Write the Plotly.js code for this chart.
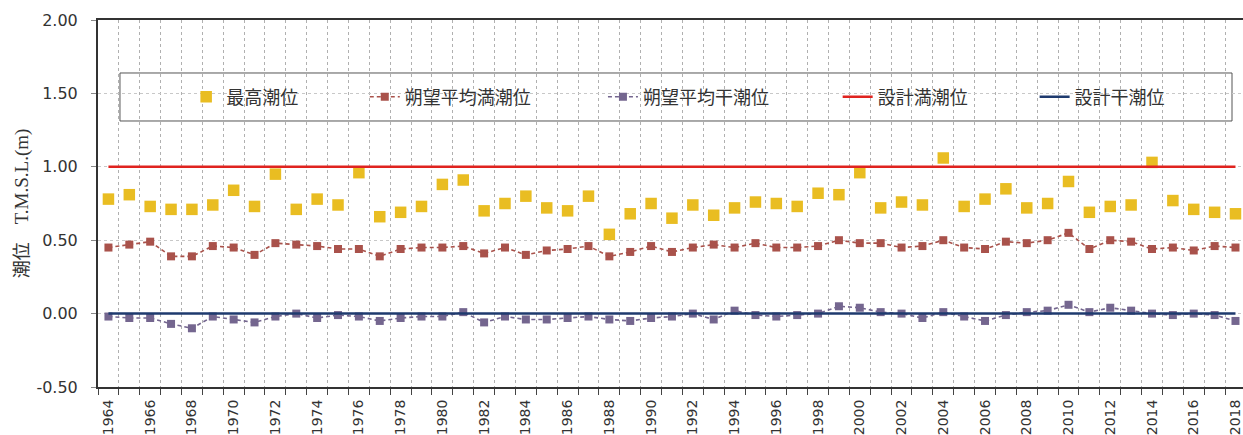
<!DOCTYPE html>
<html>
<head>
<meta charset="utf-8">
<script src="https://cdn.plot.ly/plotly-3.0.1.min.js"></script>
<style>html,body{margin:0;padding:0;background:#fff;}#chart{width:1243px;height:435px;}</style>
</head>
<body>
<div id="chart"></div>
<script>
const years = [];
for (let y = 1964; y <= 2018; y++) years.push(y);

const maxTide = [0.78,0.81,0.73,0.71,0.71,0.74,0.84,0.73,0.95,0.71,0.78,0.74,0.96,0.66,0.69,0.73,0.88,0.91,0.70,
  0.75,0.80,0.72,0.70,0.80,0.54,0.68,0.75,0.65,0.74,0.67,0.72,0.76,0.75,0.73,0.82,0.81,0.96,
  0.72,0.76,0.74,1.06,0.73,0.78,0.85,0.72,0.75,0.90,0.69,0.73,0.74,1.03,0.77,0.71,0.69,0.68];
const meanHigh = [0.45,0.47,0.49,0.39,0.39,0.46,0.45,0.40,0.48,0.47,0.46,0.44,0.44,0.39,0.44,0.45,0.45,0.46,0.41,
  0.45,0.40,0.43,0.44,0.46,0.39,0.42,0.46,0.42,0.45,0.47,0.45,0.48,0.45,0.45,0.46,0.50,0.48,
  0.48,0.45,0.46,0.50,0.45,0.44,0.49,0.48,0.50,0.55,0.44,0.50,0.49,0.44,0.45,0.43,0.46,0.45];
const meanLow = [-0.02,-0.03,-0.03,-0.07,-0.10,-0.02,-0.04,-0.06,-0.02,0.00,-0.03,-0.01,-0.02,-0.05,-0.03,-0.02,-0.02,0.01,-0.06,
  -0.02,-0.04,-0.04,-0.03,-0.02,-0.04,-0.05,-0.03,-0.02,0.00,-0.04,0.02,-0.01,-0.02,-0.01,0.00,0.05,0.04,
  0.01,0.00,-0.03,0.01,-0.02,-0.05,-0.01,0.01,0.02,0.06,0.01,0.04,0.02,0.00,-0.01,0.00,-0.01,-0.05];
const designHigh = years.map(() => 1.00);
const designLow = years.map(() => 0.00);

const labelYears = years.filter(y => y % 2 === 0);
const labelText = labelYears.map(String);
const yTickVals = [-0.5, 0, 0.5, 1.0, 1.5, 2.0];
const yTickText = ['-0.50', '0.00', '0.50', '1.00', '1.50', '2.00'];

const seriesNames = ['最高潮位','朔望平均満潮位','朔望平均干潮位','設計満潮位','設計干潮位'];

const traces = [
  {x: years, y: maxTide, name: seriesNames[0], mode: 'markers', type: 'scatter',
   marker: {symbol: 'square', size: 11.5, color: '#E9BD22'}, legend: 'legend'},
  {x: years, y: meanHigh, name: seriesNames[1], mode: 'lines+markers', type: 'scatter',
   line: {color: '#A9524B', width: 1.6, dash: '4px,3px'},
   marker: {symbol: 'square', size: 8, color: '#A9524B'}, legend: 'legend2'},
  {x: years, y: meanLow, name: seriesNames[2], mode: 'lines+markers', type: 'scatter',
   line: {color: '#74668F', width: 1.6, dash: '4px,3px'},
   marker: {symbol: 'square', size: 8, color: '#74668F'}, legend: 'legend3'},
  {x: years, y: designHigh, name: seriesNames[3], mode: 'lines', type: 'scatter', xaxis: 'x2',
   line: {color: '#E0231F', width: 2.5}, legend: 'legend4'},
  {x: years, y: designLow, name: seriesNames[4], mode: 'lines', type: 'scatter', xaxis: 'x2',
   line: {color: '#1E3A6E', width: 2.5}, legend: 'legend5'}
];

const legendFont = {family: 'Noto Sans CJK JP, sans-serif', size: 18, color: '#333'};
function lg(x) {
  return {x: x, y: 0.79, xanchor: 'left', yanchor: 'middle', orientation: 'h',
          bgcolor: 'rgba(0,0,0,0)', borderwidth: 0, font: legendFont};
}

const layout = {
  width: 1243, height: 435,
  margin: {l: 98, r: 0, t: 20, b: 48},
  paper_bgcolor: '#ffffff', plot_bgcolor: '#ffffff',
  showlegend: true,
  legend: lg(0.077), legend2: lg(0.233), legend3: lg(0.441), legend4: lg(0.646), legend5: lg(0.818),
  xaxis: {
    type: 'linear', range: [1963.5, 2018.36],
    tickmode: 'linear', tick0: 1963.5, dtick: 1,
    showticklabels: false, showgrid: true, gridcolor: '#b0b0b0', griddash: 'dot', gridwidth: 1,
    ticks: 'outside', ticklen: 6, tickcolor: '#444', tickwidth: 1,
    showline: true, linecolor: '#333', linewidth: 2, mirror: true, zeroline: false
  },
  xaxis2: {
    overlaying: 'x', matches: 'x', anchor: 'y', side: 'bottom',
    tickmode: 'array', tickvals: labelYears, ticktext: labelText, tickangle: -90,
    showgrid: false, zeroline: false, showline: false,
    ticks: 'outside', ticklen: 6, tickcolor: 'rgba(0,0,0,0)',
    ticklabeloverflow: 'allow',
    tickfont: {family: 'DejaVu Sans, sans-serif', size: 14, color: '#333'}
  },
  yaxis: {
    range: [-0.5, 2.0], tickmode: 'array', tickvals: yTickVals, ticktext: yTickText,
    showgrid: true, gridcolor: '#c8c8c8', griddash: 'dot', zeroline: false,
    ticks: 'outside', ticklen: 5, tickcolor: '#888',
    showline: true, linecolor: '#333', linewidth: 2, mirror: true,
    ticklabelstandoff: 10,
    tickfont: {family: 'DejaVu Sans, sans-serif', size: 16, color: '#333'},
    title: {text: '潮位　<span style="font-family:Liberation Serif;font-size:19px">T.M.S.L.(m)</span>',
            font: {family: 'Noto Sans CJK JP, sans-serif', size: 18, color: '#333'}, standoff: 3}
  },
  shapes: [{type: 'rect', xref: 'paper', yref: 'paper', x0: 0.0192, x1: 0.9904, y0: 0.7248, y1: 0.8556,
            line: {color: '#555', width: 1}, fillcolor: '#ffffff', layer: 'below'}]
};

Plotly.newPlot('chart', traces, layout, {displayModeBar: false, staticPlot: true});
</script>
</body>
</html>
